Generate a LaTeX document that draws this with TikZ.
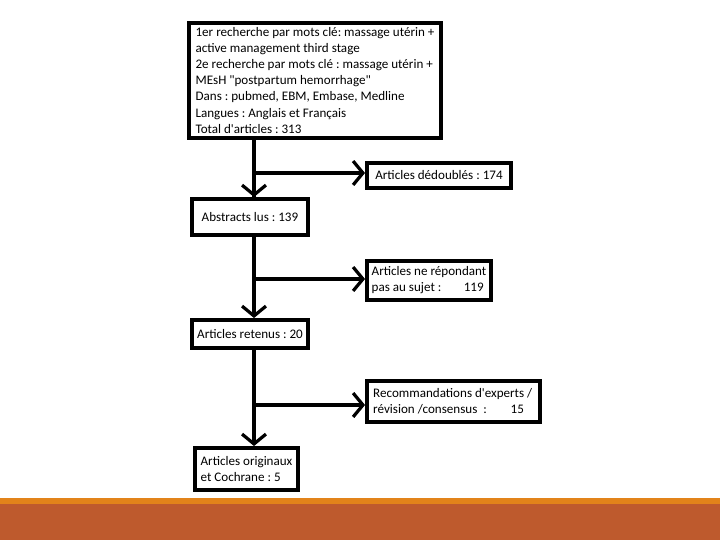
\documentclass[tikz,border=0pt]{standalone}
\usepackage{fontspec}
\setmainfont{Carlito}[Ligatures=TeXOff]
\usetikzlibrary{arrows.meta}
\definecolor{bandorange}{RGB}{226,131,26}
\definecolor{bandrust}{RGB}{190,90,45}
\frenchspacing

\begin{document}
\begin{tikzpicture}[>={Straight Barb[length=7pt,width=17pt]},line cap=butt,
  stagebox/.style={draw,line width=2.8pt,inner xsep=1.5pt,inner ysep=1pt,align=left,
    font=\fontsize{9.3}{11.4}\selectfont},
  flow/.style={line width=2.3pt}]
\fill[white] (0,0) rectangle (18,13.5);
\fill[bandrust] (0,0) rectangle (18,0.9);
\fill[bandorange] (0,0.9) rectangle (18,1.05);
\node[stagebox,minimum width=6.3cm,minimum height=2.875cm] (search) at (7.875,11.488)
  {1er recherche par mots clé: massage utérin +\\
   active management third stage\\
   2e recherche par mots clé : massage utérin +\\
   MEsH "postpartum hemorrhage"\\
   Dans : pubmed, EBM, Embase, Medline\\
   Langues : Anglais et Français\\
   Total d'articles : 313};
\node[stagebox,minimum width=3.6cm,minimum height=0.625cm] (dup) at (10.975,9.113) {Articles dédoublés : 174};
\node[stagebox,minimum width=2.9cm,minimum height=0.9cm] (abstr) at (6.25,8.075) {Abstracts lus : 139};
\node[stagebox,minimum width=3.1cm,minimum height=0.975cm] (offtopic) at (10.725,6.488)
  {Articles ne répondant\\ pas au sujet :\hspace{16pt}119};
\node[stagebox,minimum width=2.9cm,minimum height=0.7cm] (kept) at (6.25,5.15) {Articles retenus : 20};
\node[stagebox,minimum width=4.325cm,minimum height=1.025cm] (expert) at (11.338,3.463)
  {Recommandations d'experts /\\ révision /consensus~~:\hspace{17pt}15\hspace*{7pt}};
\node[stagebox,minimum width=2.575cm,minimum height=1.05cm] (orig) at (6.163,1.775)
  {Articles originaux\\ et Cochrane : 5};
\coordinate (j1) at (6.35,9.175);
\coordinate (j2) at (6.35,6.525);
\coordinate (j3) at (6.35,3.375);
\draw[flow] (search.south -| j1) -- (abstr.north -| j1);
\draw[flow,->] (j1) -- (abstr.north -| j1);
\draw[flow,->] (j1) -- (dup.west |- j1);
\draw[flow,->] (abstr.south -| j2) -- (kept.north -| j2);
\draw[flow,->] (j2) -- (offtopic.west |- j2);
\draw[flow,->] (kept.south -| j3) -- (orig.north -| j3);
\draw[flow,->] (j3) -- (expert.west |- j3);
\end{tikzpicture}
\end{document}
